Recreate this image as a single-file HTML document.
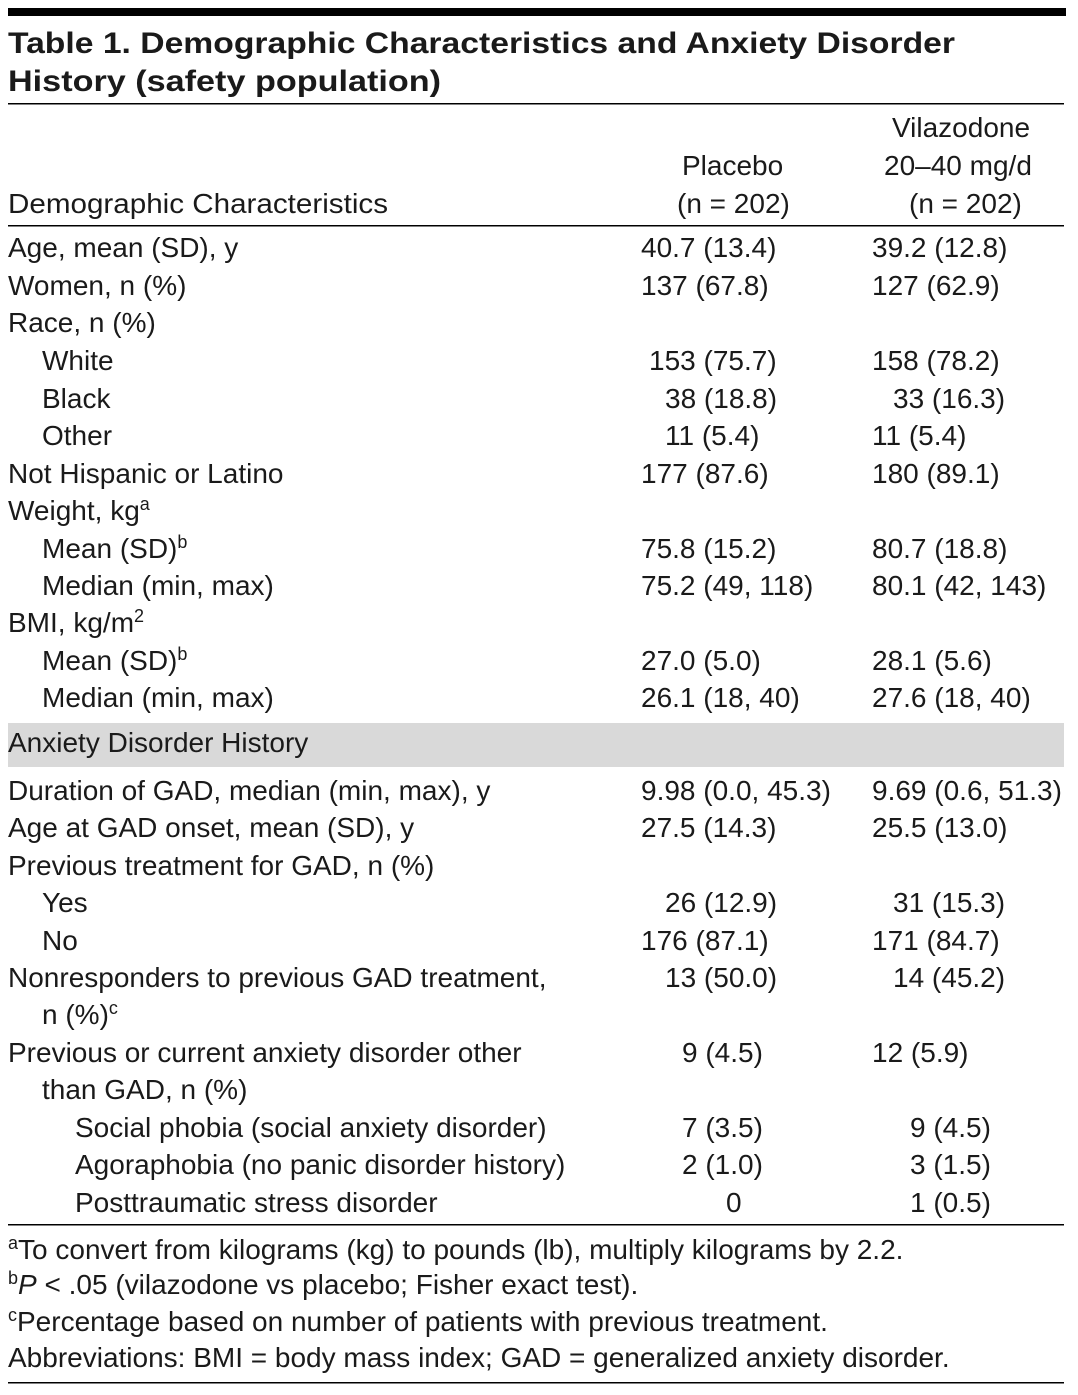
<!DOCTYPE html>
<html><head><meta charset="utf-8"><style>
html,body{margin:0;padding:0;background:#fff;}
svg{display:block;font-family:"Liberation Sans",sans-serif;}
text{fill:#1a1a1a;font-size:28px;}
.t{font-weight:bold;font-size:30px;}
.s{font-size:18px;}
</style></head><body>
<svg width="1078" height="1395" viewBox="0 0 1078 1395">
<rect x="8" y="8" width="1058" height="8" fill="#000"/>
<g>
<text class="t" x="8" y="53" textLength="947" lengthAdjust="spacingAndGlyphs">Table 1. Demographic Characteristics and Anxiety Disorder</text>
<text class="t" x="8" y="91" textLength="433" lengthAdjust="spacingAndGlyphs">History (safety population)</text>
</g>
<rect x="8" y="103" width="1056" height="1.5" fill="#000"/>
<g>
<text x="892" y="137">Vilazodone</text>
<text x="682" y="175">Placebo</text>
<text x="884" y="175">20–40 mg/d</text>
<text x="8" y="213" textLength="380" lengthAdjust="spacingAndGlyphs">Demographic Characteristics</text>
<text x="677" y="213">(n = 202)</text>
<text x="909" y="213">(n = 202)</text>
</g>
<rect x="8" y="225" width="1056" height="1.5" fill="#000"/>
<rect x="8" y="723" width="1056" height="44" fill="#d9d9d9"/>
<g>
<text x="8" y="257">Age, mean (SD), y</text><text x="641" y="257">40.7 (13.4)</text><text x="872" y="257">39.2 (12.8)</text>
<text x="8" y="295">Women, n (%)</text><text x="641" y="295">137 (67.8)</text><text x="872" y="295">127 (62.9)</text>
<text x="8" y="332">Race, n (%)</text>
<text x="42" y="370">White</text><text x="649" y="370">153 (75.7)</text><text x="872" y="370">158 (78.2)</text>
<text x="42" y="408">Black</text><text x="665" y="408">38 (18.8)</text><text x="893" y="408">33 (16.3)</text>
<text x="42" y="445">Other</text><text x="665" y="445">11 (5.4)</text><text x="872" y="445">11 (5.4)</text>
<text x="8" y="483">Not Hispanic or Latino</text><text x="641" y="483">177 (87.6)</text><text x="872" y="483">180 (89.1)</text>
<text x="8" y="520">Weight, kg<tspan class="s" dy="-10">a</tspan></text>
<text x="42" y="558">Mean (SD)<tspan class="s" dy="-10">b</tspan></text><text x="641" y="558">75.8 (15.2)</text><text x="872" y="558">80.7 (18.8)</text>
<text x="42" y="595">Median (min, max)</text><text x="641" y="595">75.2 (49, 118)</text><text x="872" y="595">80.1 (42, 143)</text>
<text x="8" y="632">BMI, kg/m<tspan class="s" dy="-10">2</tspan></text>
<text x="42" y="670">Mean (SD)<tspan class="s" dy="-10">b</tspan></text><text x="641" y="670">27.0 (5.0)</text><text x="872" y="670">28.1 (5.6)</text>
<text x="42" y="707">Median (min, max)</text><text x="641" y="707">26.1 (18, 40)</text><text x="872" y="707">27.6 (18, 40)</text>
<text x="8" y="752">Anxiety Disorder History</text>
<text x="8" y="800">Duration of GAD, median (min, max), y</text><text x="641" y="800">9.98 (0.0, 45.3)</text><text x="872" y="800">9.69 (0.6, 51.3)</text>
<text x="8" y="837">Age at GAD onset, mean (SD), y</text><text x="641" y="837">27.5 (14.3)</text><text x="872" y="837">25.5 (13.0)</text>
<text x="8" y="875">Previous treatment for GAD, n (%)</text>
<text x="42" y="912">Yes</text><text x="665" y="912">26 (12.9)</text><text x="893" y="912">31 (15.3)</text>
<text x="42" y="950">No</text><text x="641" y="950">176 (87.1)</text><text x="872" y="950">171 (84.7)</text>
<text x="8" y="987">Nonresponders to previous GAD treatment,</text><text x="665" y="987">13 (50.0)</text><text x="893" y="987">14 (45.2)</text>
<text x="42" y="1024">n (%)<tspan class="s" dy="-10">c</tspan></text>
<text x="8" y="1062">Previous or current anxiety disorder other</text><text x="682" y="1062">9 (4.5)</text><text x="872" y="1062">12 (5.9)</text>
<text x="42" y="1099">than GAD, n (%)</text>
<text x="75" y="1137">Social phobia (social anxiety disorder)</text><text x="682" y="1137">7 (3.5)</text><text x="910" y="1137">9 (4.5)</text>
<text x="75" y="1174">Agoraphobia (no panic disorder history)</text><text x="682" y="1174">2 (1.0)</text><text x="910" y="1174">3 (1.5)</text>
<text x="75" y="1212">Posttraumatic stress disorder</text><text x="726" y="1212">0</text><text x="910" y="1212">1 (0.5)</text>
</g>
<rect x="8" y="1224" width="1056" height="1.5" fill="#000"/>
<g>
<text x="8" y="1259"><tspan class="s" dy="-10">a</tspan><tspan dy="10">To convert from kilograms (kg) to pounds (lb), multiply kilograms by 2.2.</tspan></text>
<text x="8" y="1294"><tspan class="s" dy="-10">b</tspan><tspan dy="10" font-style="italic">P</tspan><tspan> &lt; .05 (vilazodone vs placebo; Fisher exact test).</tspan></text>
<text x="8" y="1331"><tspan class="s" dy="-10">c</tspan><tspan dy="10">Percentage based on number of patients with previous treatment.</tspan></text>
<text x="8" y="1367">Abbreviations: BMI = body mass index; GAD = generalized anxiety disorder.</text>
</g>
<rect x="8" y="1382" width="1056" height="1.5" fill="#000"/>
</svg>
</body></html>
